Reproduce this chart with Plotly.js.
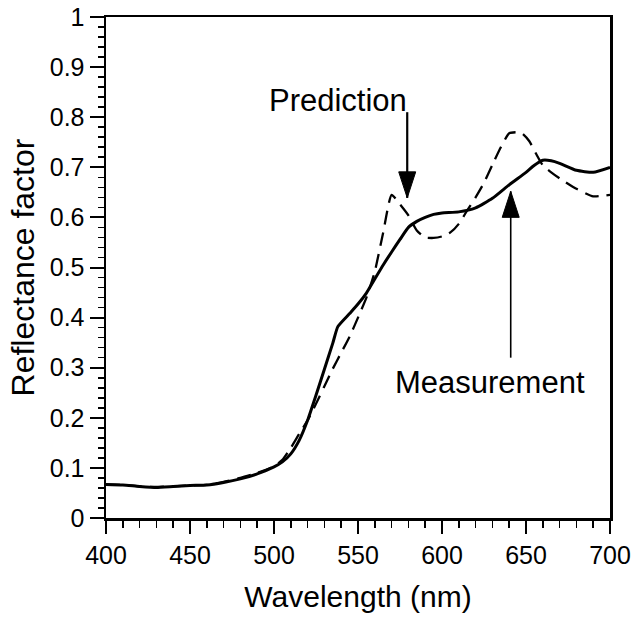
<!DOCTYPE html>
<html>
<head>
<meta charset="utf-8">
<script src="https://cdn.plot.ly/plotly-3.0.1.min.js"></script>
<style>html,body{margin:0;padding:0;background:#fff;}#chart{width:634px;height:620px;}</style>
</head>
<body>
<div id="chart"></div>
<script>
// Measurement (solid)
const measWl  = [400,410,420,430,440,450,460,470,480,490,500,505,510,515,520,525,530,535,538,545,550,555,560,565,570,575,580,585,590,595,600,610,620,630,640,650,655,660,665,670,680,690,700];
const measVal = [0.067,0.066,0.063,0.061,0.063,0.065,0.066,0.071,0.078,0.088,0.102,0.112,0.128,0.155,0.195,0.245,0.297,0.349,0.382,0.408,0.427,0.449,0.477,0.505,0.531,0.556,0.580,0.592,0.600,0.606,0.609,0.611,0.619,0.638,0.665,0.690,0.704,0.714,0.713,0.708,0.694,0.690,0.700];
// Prediction (dashed)
const predWl  = [400,410,420,430,440,450,460,470,480,490,500,505,510,515,520,525,530,535,540,545,550,555,560,565,570,575,580,585,590,595,600,605,610,615,620,625,630,635,640,645,648,652,656,660,665,670,680,690,700];
const predVal = [0.067,0.066,0.063,0.062,0.063,0.065,0.066,0.072,0.080,0.090,0.103,0.116,0.140,0.168,0.195,0.228,0.263,0.298,0.330,0.362,0.400,0.440,0.492,0.570,0.645,0.626,0.604,0.574,0.560,0.559,0.562,0.570,0.587,0.614,0.640,0.669,0.705,0.740,0.768,0.770,0.767,0.752,0.727,0.704,0.690,0.678,0.657,0.642,0.645];
// Callouts
const labelText = ["Prediction", "Measurement"];
const labelX    = [538, 628.5];
const labelY    = [0.834, 0.270];
const arrowX    = [579.3, 640.9];
const arrowTail = [0.81, 0.32];
const arrowTip  = [0.639, 0.652];
const xTickVals = [400,450,500,550,600,650,700];

const FONT = "Liberation Sans, Arial, Helvetica, sans-serif";

const traces = [
  {x: predWl, y: predVal, mode: "lines", name: "Prediction",
   line: {color: "#000", width: 2.3, dash: "14px,8px", shape: "spline", smoothing: 0.5}},
  {x: measWl, y: measVal, mode: "lines", name: "Measurement",
   line: {color: "#000", width: 3, shape: "spline", smoothing: 0.5}}
];

const annotations = labelText.map((t, i) => ({
  x: labelX[i], y: labelY[i], xref: "x", yref: "y", text: t, showarrow: false,
  font: {family: FONT, size: 31, color: "#000"}, xanchor: "center", yanchor: "middle"
}));

const HEAD = 26, HALF = 8.5;
const shapes = [];
arrowX.forEach((ax, i) => {
  const down = arrowTip[i] < arrowTail[i];
  shapes.push({type: "line", xref: "x", yref: "y", x0: ax, x1: ax, y0: arrowTail[i], y1: arrowTip[i],
    line: {color: "#000", width: i === 0 ? 2.2 : 1.6}});
  const p = down
    ? `M0,0 L${-HALF},${HEAD} L${HALF},${HEAD} Z`
    : `M0,0 L${-HALF},${-HEAD} L${HALF},${-HEAD} Z`;
  shapes.push({type: "path", xref: "x", yref: "y", xsizemode: "pixel", ysizemode: "pixel",
    xanchor: ax, yanchor: arrowTip[i], path: p, fillcolor: "#000", line: {color: "#000", width: 1}});
});

const layout = {
  width: 634, height: 620,
  margin: {l: 106, r: 24, t: 17, b: 102},
  paper_bgcolor: "#fff", plot_bgcolor: "#fff",
  showlegend: false,
  font: {family: FONT, color: "#000"},
  xaxis: {
    range: [400, 700], tickvals: xTickVals, showgrid: false, zeroline: false,
    showline: true, mirror: true, linecolor: "#000", linewidth: 2.5,
    ticks: "outside", ticklen: 13, tickwidth: 2, tickcolor: "#000",
    minor: {dtick: 10, ticks: "outside", ticklen: 7, tickwidth: 1.6, tickcolor: "#000", showgrid: false},
    tickfont: {family: FONT, size: 25, color: "#000"},
    title: {text: "Wavelength (nm)", font: {family: FONT, size: 30, color: "#000"}, standoff: 19}
  },
  yaxis: {
    range: [0, 1], dtick: 0.1, tick0: 0, showgrid: false, zeroline: false,
    showline: true, mirror: true, linecolor: "#000", linewidth: 2.5,
    ticks: "outside", ticklen: 14, tickwidth: 2, tickcolor: "#000",
    minor: {dtick: 0.02, ticks: "outside", ticklen: 6, tickwidth: 1.6, tickcolor: "#000", showgrid: false},
    tickfont: {family: FONT, size: 25, color: "#000"},
    title: {text: "Reflectance factor", font: {family: FONT, size: 32, color: "#000"}, standoff: 6}
  },
  annotations: annotations,
  shapes: shapes
};

Plotly.newPlot("chart", traces, layout, {staticPlot: true, displayModeBar: false});
</script>
</body>
</html>
